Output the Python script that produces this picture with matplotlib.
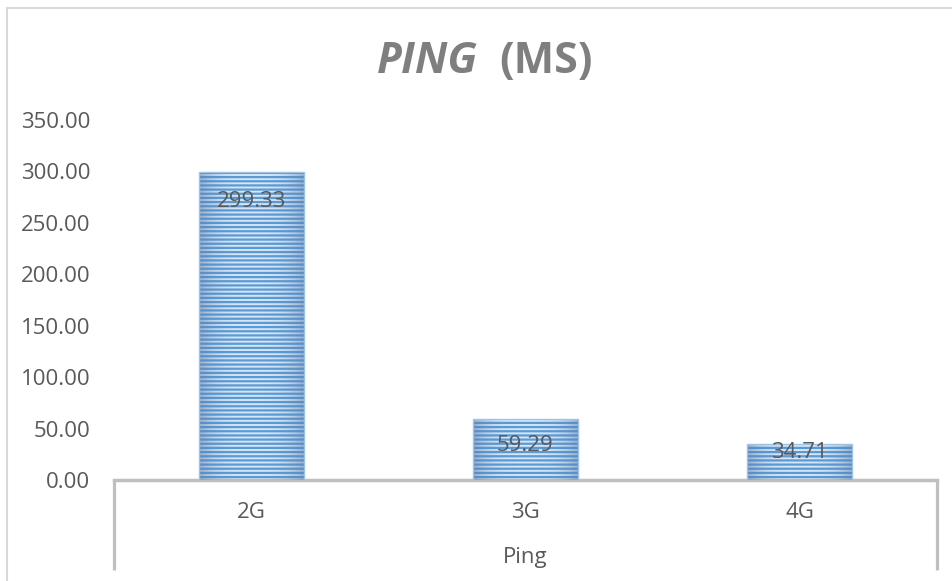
import matplotlib
matplotlib.use("Agg")
import matplotlib.pyplot as plt
import numpy as np
from matplotlib.patches import Rectangle

plt.rcParams['font.family'] = ['Open Sans', 'DejaVu Sans']
plt.rcParams['hatch.linewidth'] = 1.6

# ping per network generation
categories = ['2G', '3G', '4G']
ping_ms = [299.33, 59.29, 34.71]
group_label = 'Ping'
y_ticks = [0, 50, 100, 150, 200, 250, 300, 350]
label_drop = [29, 26, 8]   # px below bar top for the value labels

txt = '#595959'
axis_grey = '#BFBFBF'

fig = plt.figure(figsize=(9.53, 5.81), dpi=100)
ax = fig.add_axes([114 / 953, 101 / 581, 823 / 953, 360 / 581])

# outer chart frame
fig.patches.append(Rectangle((7 / 953, -0.1), 1.2, 1 - 8 / 581 + 0.1,
                             transform=fig.transFigure, fill=False,
                             edgecolor='#D9D9D9', linewidth=1.5))

x = np.arange(len(categories))
bars = ax.bar(x, ping_ms, width=0.383, color='#D6E6F6', hatch='----',
              edgecolor='#5B9BD5', linewidth=0, zorder=2)

# darker shading towards the bar sides
shade = np.abs(np.linspace(-1, 1, 200)) ** 3
cmap = matplotlib.colors.LinearSegmentedColormap.from_list(
    'shade', [(0.35, 0.5, 0.7, 0.0), (0.35, 0.5, 0.7, 0.55)])
for b in bars:
    x0, w, h = b.get_x(), b.get_width(), b.get_height()
    im = ax.imshow(shade[np.newaxis, :], extent=(x0, x0 + w, 0, h),
                   cmap=cmap, aspect='auto', zorder=3, vmin=0, vmax=1)
    im.set_clip_path(b)
    ax.add_patch(Rectangle((x0, 0), w, h, fill=False, edgecolor='#9DC3E6',
                           linewidth=1.0, zorder=4))

for xi, v, d in zip(x, ping_ms, label_drop):
    ax.annotate(f'{v:.2f}', (xi, v), xytext=(0, -d * 0.72),
                textcoords='offset points', ha='center', va='center',
                fontsize=16, color=txt, zorder=5)

ax.set_xlim(-0.5, 2.5)
ax.set_ylim(0, 350)
ax.set_yticks(y_ticks)
ax.set_yticklabels([f'{t:.2f}' for t in y_ticks], fontsize=16, color=txt)
ax.tick_params(axis='y', length=0, pad=17)
ax.set_xticks([])
for s in ['left', 'right', 'top']:
    ax.spines[s].set_visible(False)
ax.spines['bottom'].set_color(axis_grey)
ax.spines['bottom'].set_linewidth(2.5)

# multi-level category axis
for xi, c in zip(x, categories):
    ax.text(xi, -32 / 360, c, transform=ax.get_xaxis_transform(),
            ha='center', va='center', fontsize=16, color=txt)
ax.text(1, -77 / 360, group_label, transform=ax.get_xaxis_transform(),
        ha='center', va='center', fontsize=16, color=txt)
for xe in ax.get_xlim():
    ax.plot([xe, xe], [0, -90 / 360], transform=ax.get_xaxis_transform(),
            color=axis_grey, linewidth=2.3, clip_on=False,
            solid_capstyle='butt')

# title
fig.text(478 / 953, 1 - 73 / 581, 'PING', ha='right', va='baseline',
         fontsize=31, fontweight='bold', fontstyle='italic', color='#7F7F7F')
fig.text(499 / 953, 1 - 73 / 581, '(MS)', ha='left', va='baseline',
         fontsize=31, fontweight='bold', color='#7F7F7F')

fig.savefig('out.png', dpi=100)
